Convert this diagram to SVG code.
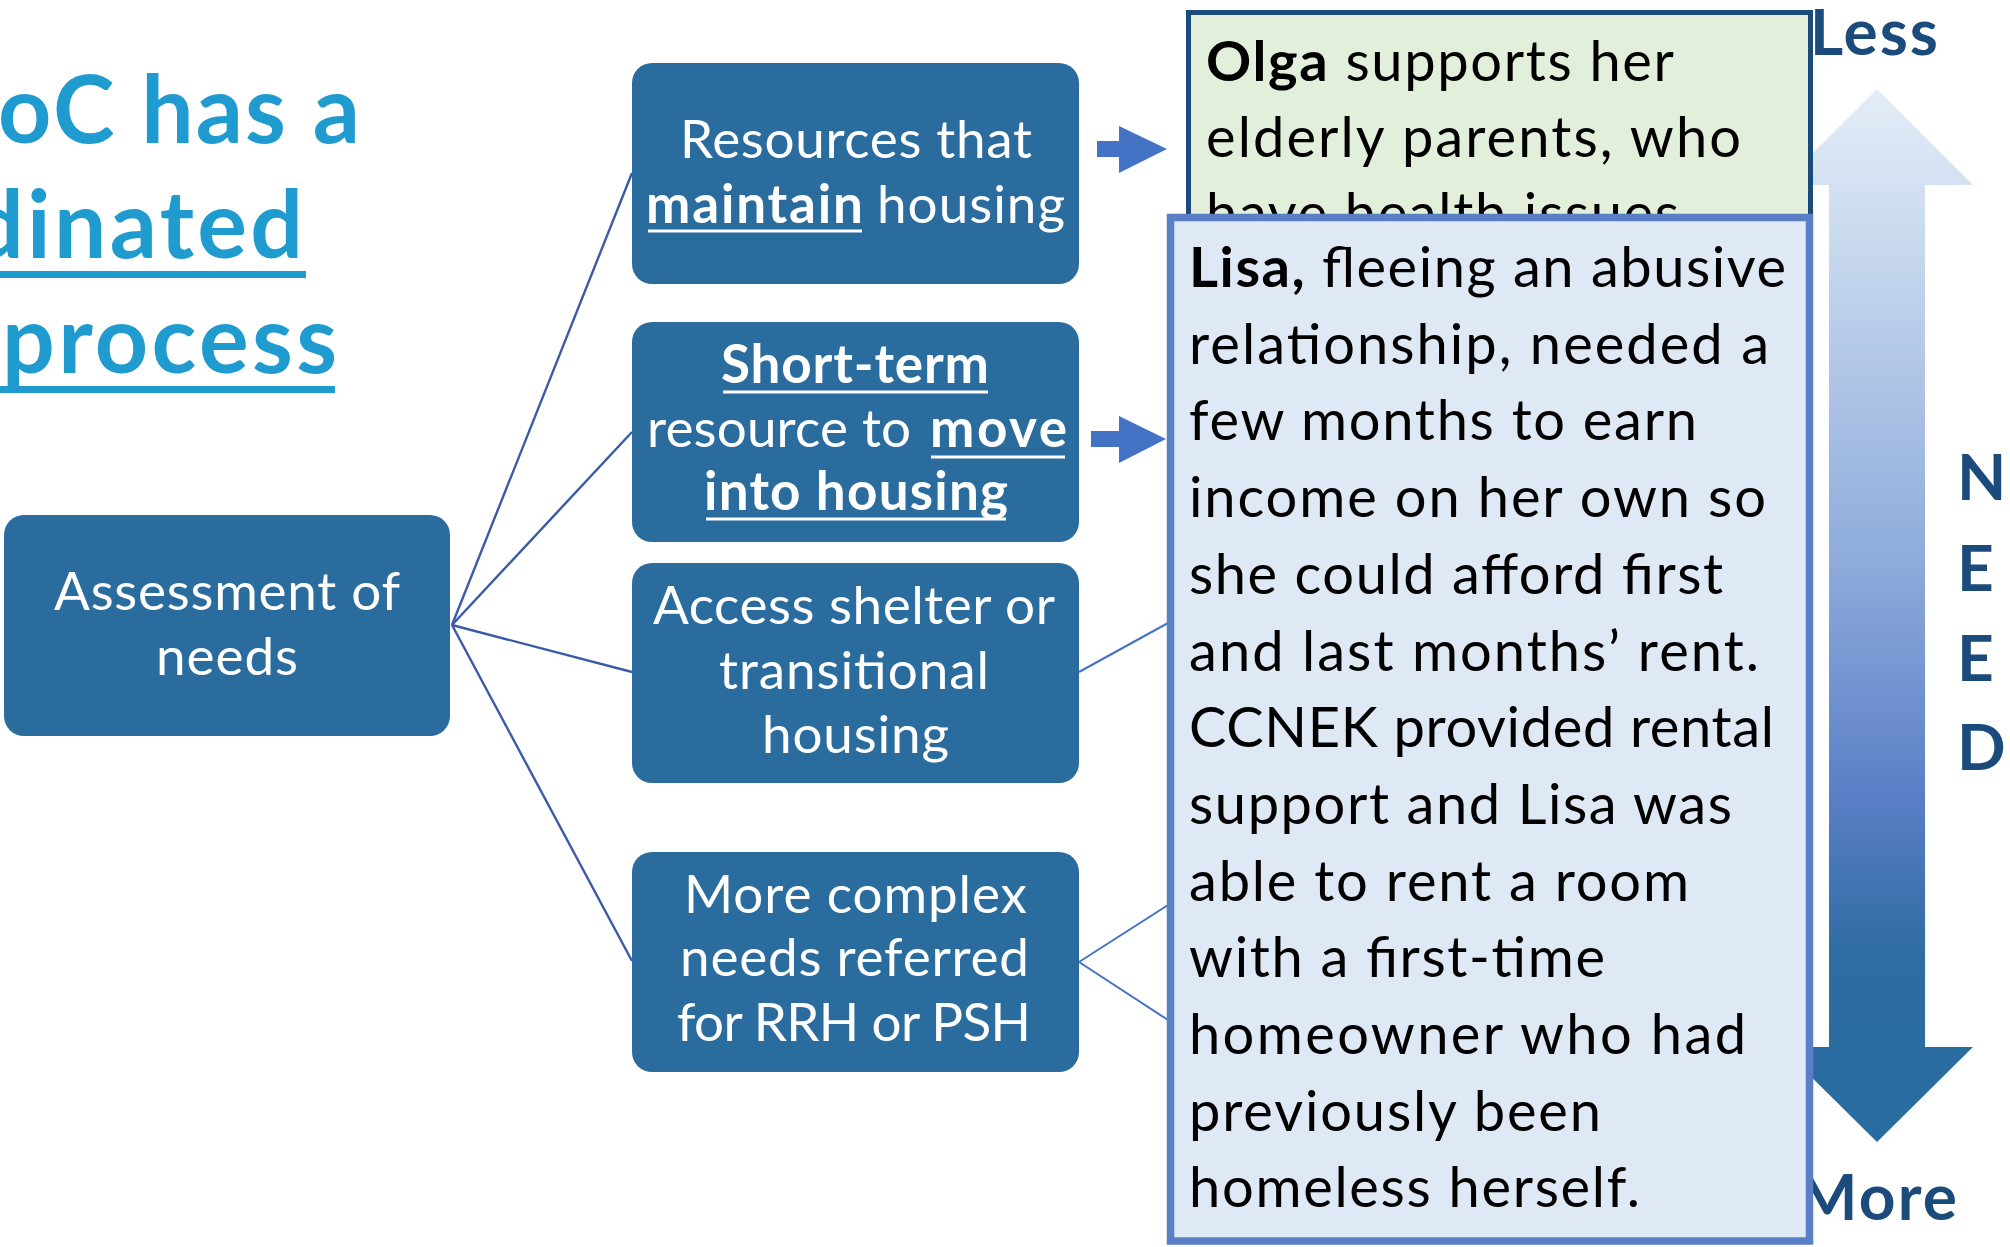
<svg xmlns="http://www.w3.org/2000/svg" width="2010" height="1247" viewBox="0 0 2010 1247">
<defs>
<style>
text{font-family:Lato,"Open Sans","Liberation Sans",sans-serif}
.box{fill:#2A6C9E}
.bt{fill:#ffffff;font-size:53px}
.b{font-weight:700}
.ul{stroke:#ffffff;stroke-width:3}
.title{fill:#1F9BCF;font-size:93px;font-weight:700}
.tul{fill:#1F9BCF}
.story{font-size:56px;fill:#000000}
.scale{fill:#1A4B7B;font-size:64px;font-weight:700}
.conn{stroke:#3B5AA6;stroke-width:2.4;fill:none}
.conn2{stroke:#4472C4;stroke-width:2;fill:none}
.blk{fill:#4472C4}
</style>
<linearGradient id="needGrad" gradientUnits="userSpaceOnUse" x1="0" y1="89" x2="0" y2="1142">
<stop offset="0" stop-color="#E3EDF7"/>
<stop offset="0.09" stop-color="#D3E1F2"/>
<stop offset="0.447" stop-color="#8EABDB"/>
<stop offset="0.672" stop-color="#5A7FC7"/>
<stop offset="0.822" stop-color="#2E6CA3"/>
<stop offset="1" stop-color="#286C9F"/>
</linearGradient>
</defs>
<rect x="0" y="0" width="2010" height="1247" fill="#ffffff"/>

<g id="title">
<text class="title" x="-2" y="143" textLength="362">oC has a</text>
<text class="title" x="-29" y="258" textLength="332">dinated</text>
<rect class="tul" x="0" y="271" width="306" height="7"/>
<text class="title" x="2" y="373" textLength="335">process</text>
<rect class="tul" x="0" y="386" width="335" height="7"/>
</g>

<g id="need-scale">
<polygon points="1877,89 1973,185 1925,185 1925,1047 1973,1047 1877,1142 1781,1047 1829,1047 1829,185 1781,185" fill="url(#needGrad)"/>
<text class="scale" x="1810" y="55" textLength="128">Less</text>
<text class="scale" x="1957" y="500">N</text>
<text class="scale" x="1957" y="591">E</text>
<text class="scale" x="1957" y="681">E</text>
<text class="scale" x="1957" y="770">D</text>
<text class="scale" x="1797" y="1220" textLength="160">More</text>
</g>

<g id="connectors">
<line class="conn" x1="452" y1="625" x2="632" y2="173"/>
<line class="conn" x1="452" y1="625" x2="632" y2="432"/>
<line class="conn" x1="452" y1="625" x2="632" y2="672"/>
<line class="conn" x1="452" y1="625" x2="632" y2="961"/>
<line class="conn2" x1="1079" y1="672" x2="1168" y2="623"/>
<line class="conn2" x1="1079" y1="962" x2="1168" y2="905"/>
<line class="conn2" x1="1079" y1="962" x2="1168" y2="1020"/>
<polygon class="blk" points="1097,141 1119,141 1119,126 1167,149 1119,173 1119,157 1097,157"/>
<polygon class="blk" points="1091,431 1119,431 1119,416 1166,439 1119,463 1119,447 1091,447"/>
</g>

<g id="assessment">
<rect class="box" x="4" y="515" width="446" height="221" rx="20"/>
<text class="bt" x="227" y="610" text-anchor="middle" textLength="346">Assessment of</text>
<text class="bt" x="227" y="675" text-anchor="middle" textLength="142">needs</text>
</g>

<g id="maintain">
<rect class="box" x="632" y="63" width="447" height="221" rx="20"/>
<text class="bt" x="856" y="158" text-anchor="middle" textLength="352">Resources that</text>
<text class="bt b" x="646" y="223" textLength="217">maintain</text>
<text class="bt" x="877" y="223" textLength="188">housing</text>
<line class="ul" x1="648" y1="231" x2="862" y2="231"/>
</g>

<g id="short-term">
<rect class="box" x="632" y="322" width="447" height="220" rx="20"/>
<text class="bt b" x="721" y="383" textLength="268">Short-term</text>
<line class="ul" x1="723" y1="392" x2="988" y2="392"/>
<text class="bt" x="647" y="447" textLength="264">resource to</text>
<text class="bt b" x="930" y="447" textLength="137">move</text>
<line class="ul" x1="931" y1="457" x2="1065" y2="457"/>
<text class="bt b" x="704" y="510" textLength="304">into housing</text>
<line class="ul" x1="706" y1="519" x2="1006" y2="519"/>
</g>

<g id="shelter">
<rect class="box" x="632" y="563" width="447" height="220" rx="20"/>
<text class="bt" x="854" y="624" text-anchor="middle" textLength="402">Access shelter or</text>
<text class="bt" x="854" y="689" text-anchor="middle" textLength="270">transitional</text>
<text class="bt" x="855.5" y="753" text-anchor="middle" textLength="187">housing</text>
</g>

<g id="complex">
<rect class="box" x="632" y="852" width="447" height="220" rx="20"/>
<text class="bt" x="855.5" y="913" text-anchor="middle" textLength="343">More complex</text>
<text class="bt" x="854.5" y="976" text-anchor="middle" textLength="349">needs referred</text>
<text class="bt" x="854" y="1041" text-anchor="middle" textLength="354">for RRH or PSH</text>
</g>

<g id="olga">
<rect x="1188.5" y="12.5" width="622" height="300" fill="#E2EFDA" stroke="#1A4B7B" stroke-width="5"/>
<text class="story" x="1206" y="81" textLength="468"><tspan class="b">Olga</tspan> supports her</text>
<text class="story" x="1206" y="157" textLength="535">elderly parents, who</text>
<text class="story" x="1206" y="233" textLength="473">have health issues</text>
</g>

<g id="lisa">
<rect x="1170.5" y="217.5" width="639" height="1023.5" fill="#DEE9F5" stroke="#5A7FC7" stroke-width="7.5"/>
<text class="story" x="1189" y="287" textLength="597"><tspan class="b">Lisa,</tspan> fleeing an abusive</text>
<text class="story" x="1189" y="363.7" textLength="580">relationship, needed a</text>
<text class="story" x="1189" y="440.4" textLength="508">few months to earn</text>
<text class="story" x="1189" y="517.1" textLength="577">income on her own so</text>
<text class="story" x="1189" y="593.8" textLength="534">she could afford first</text>
<text class="story" x="1189" y="670.5" textLength="570">and last months’ rent.</text>
<text class="story" x="1189" y="747.2" textLength="585">CCNEK provided rental</text>
<text class="story" x="1189" y="823.9" textLength="543">support and Lisa was</text>
<text class="story" x="1189" y="900.6" textLength="500">able to rent a room</text>
<text class="story" x="1189" y="977.3" textLength="416">with a first-time</text>
<text class="story" x="1189" y="1054" textLength="557">homeowner who had</text>
<text class="story" x="1189" y="1130.7" textLength="412">previously been</text>
<text class="story" x="1189" y="1207.4" textLength="451">homeless herself.</text>
</g>
</svg>
